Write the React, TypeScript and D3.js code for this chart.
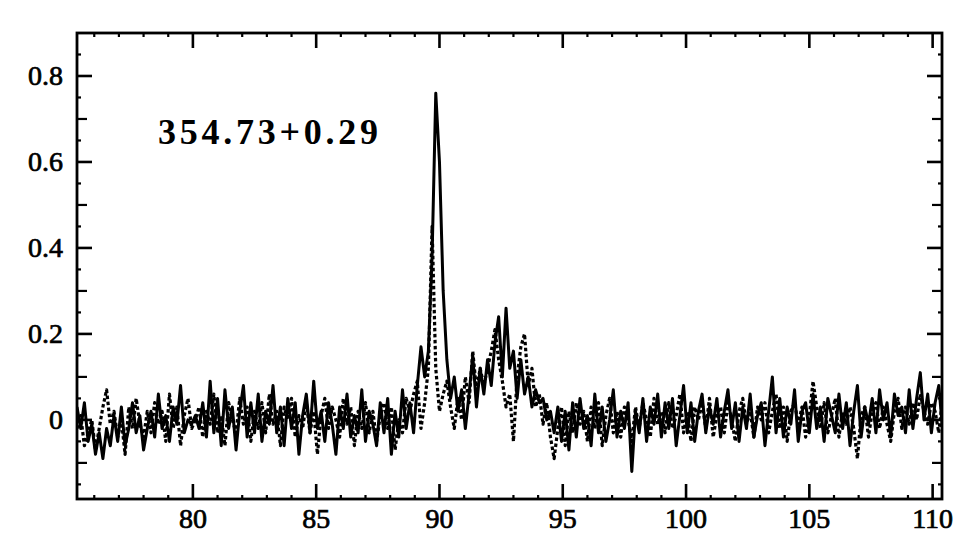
import React from "react";
import * as d3 from "d3";

// Velocity grid (km/s): channel centres, 0.15 km/s spacing
const velStart = 75.3;
const velStep = 0.15;

// Solid spectrum (line intensity)
const solidValues: number[] = [
  0.03, -0.02, 0.04, -0.05, -0.01, -0.08, -0.03, -0.09, -0.02, -0.06,
  0.01, -0.05, 0.03, -0.06, -0.02, 0.04, -0.03, 0.01, -0.07, -0.02,
  0.02, -0.04, 0.06, -0.02, 0.01, -0.05, 0.03, -0.01, 0.08, -0.03,
  0.0, -0.01, 0.01, -0.02, 0.04, -0.04, 0.09, -0.03, 0.05, -0.06,
  0.07, -0.02, 0.03, -0.07, 0.02, 0.08, -0.04, 0.04, -0.03, 0.06,
  -0.05, 0.02, -0.01, 0.08, -0.03, 0.03, -0.06, 0.05, -0.02, 0.04,
  -0.08, 0.01, 0.06, -0.03, 0.09, -0.02, 0.02, -0.05, 0.04, -0.01,
  -0.08, 0.03, -0.02, 0.06, -0.04, 0.01, -0.03, 0.07, -0.05, 0.02,
  -0.01, -0.06, 0.04, -0.03, 0.05, -0.08, 0.02, -0.04, 0.07, -0.02,
  0.04, -0.03, 0.08, 0.17, 0.1, 0.16, 0.38, 0.76, 0.6, 0.3,
  0.14, 0.05, 0.1, 0.02, 0.07, -0.02, 0.06, 0.15, 0.03, 0.12,
  0.06, 0.14, 0.08, 0.18, 0.24, 0.1, 0.26, 0.12, 0.16, 0.05,
  0.14, 0.06, 0.1, 0.03, 0.07, 0.04, 0.05, 0.0, 0.02, -0.03,
  0.03, -0.05, 0.02, -0.07, 0.04, -0.04, 0.05, -0.02, 0.01, -0.06,
  0.06, -0.03, 0.03, -0.05, 0.0, 0.07, -0.04, 0.02, -0.02, 0.04,
  -0.12, 0.02, -0.03, 0.05, -0.05, 0.03, -0.01, 0.06, -0.04, 0.04,
  -0.02, 0.05, -0.06, 0.01, 0.08, -0.03, 0.04, -0.05, 0.02, 0.06,
  -0.03, 0.03, -0.01, 0.05, -0.04, 0.02, 0.07, -0.02, 0.04, -0.05,
  0.03, -0.02, 0.06, -0.04, 0.01, 0.04, -0.06, 0.02, 0.1, -0.03,
  0.05, -0.04, 0.03, -0.01, 0.07, -0.05, 0.02, 0.04, -0.03, 0.06,
  -0.02, 0.03, -0.05, 0.05, 0.01, -0.03, 0.06, -0.02, 0.04, -0.06,
  0.02, 0.08, -0.04, 0.03, -0.01, 0.05, -0.03, 0.07, 0.0, 0.04,
  -0.04, 0.06, 0.01, 0.03, -0.03, 0.07, -0.02, 0.05, 0.11, 0.0,
  0.06, -0.03, 0.04, 0.08, -0.02,
];

// Dotted spectrum
const dottedValues: number[] = [
  -0.02, 0.01, -0.06, -0.03, 0.0, -0.07, -0.02, 0.03, 0.07, -0.01,
  0.02, -0.04, 0.0, -0.08, 0.03, -0.02, 0.05, -0.01, -0.04, 0.02,
  -0.03, 0.04, -0.01, 0.02, -0.05, 0.06, -0.02, 0.03, -0.06, 0.01,
  0.05, -0.02, 0.0, 0.03, -0.04, 0.02, -0.01, 0.06, -0.03, 0.01,
  -0.06, 0.04, 0.0, -0.03, 0.05, -0.01, 0.03, -0.05, 0.02, -0.02,
  0.04, -0.03, 0.06, -0.01, 0.02, -0.06, 0.03, 0.0, 0.05, -0.04,
  0.01, -0.02, 0.04, -0.03, 0.02, -0.08, 0.01, 0.05, -0.02, 0.03,
  0.0, -0.04, 0.05, -0.01, 0.03, -0.06, 0.02, -0.02, 0.04, -0.03,
  0.02, -0.05, 0.01, 0.04, -0.02, 0.03, -0.07, 0.0, -0.03, 0.05,
  0.02, 0.06, 0.09, -0.02, 0.04, 0.12, 0.45, 0.12, 0.02, 0.06,
  0.09, 0.03, -0.02, 0.05, 0.0, 0.1, 0.04, 0.16, 0.07, 0.12,
  0.08, 0.12, 0.16, 0.21, 0.14, 0.09, 0.03, 0.06, -0.05, 0.1,
  0.17, 0.2, 0.08, 0.12, 0.03, 0.06, -0.01, 0.04, -0.04, -0.09,
  -0.02, 0.03, -0.06, 0.02, -0.03, 0.04, -0.01, 0.02, -0.05, 0.03,
  -0.02, 0.04, -0.06, 0.01, 0.05, -0.03, 0.02, -0.04, 0.03, 0.0,
  -0.05, 0.03, -0.02, 0.04, 0.0, -0.04, 0.05, -0.01, 0.02, -0.03,
  0.04, -0.02, 0.01, 0.06, -0.03, 0.02, -0.05, 0.03, 0.0, 0.04,
  -0.02, 0.05, -0.04, 0.01, 0.03, -0.03, 0.04, 0.0, -0.05, 0.02,
  0.05, -0.01, 0.02, -0.04, 0.03, 0.0, 0.04, -0.03, 0.02, 0.06,
  -0.02, 0.03, -0.05, 0.02, 0.04, -0.01, 0.03, -0.04, 0.01, 0.09,
  0.03, -0.02, 0.04, -0.03, 0.01, 0.05, -0.04, 0.02, -0.01, 0.03,
  -0.02, -0.09, 0.01, 0.03, -0.04, 0.02, 0.04, -0.02, 0.03, -0.01,
  -0.05, 0.02, 0.05, -0.02, 0.03, -0.01, 0.04, 0.0, 0.06, 0.02,
  -0.01, 0.04, 0.02, -0.03, 0.05,
];

const xTickValues = [80, 85, 90, 95, 100, 105, 110];
const yTickValues = [0, 0.2, 0.4, 0.6, 0.8];
const yTickLabels = ["0", "0.2", "0.4", "0.6", "0.8"];
const annotation = "354.73+0.29";

const W = 964;
const H = 544;
const L = 77, R = 942, T = 33, B = 499;

export default function App() {
  const x = d3.scaleLinear().domain([75.3, 110.38]).range([L, R]);
  const y = d3.scaleLinear().domain([-0.184, 0.9]).range([B, T]);

  const toPts = (vals: number[]) =>
    vals.map((v, i) => [velStart + i * velStep, v] as [number, number]);
  const line = d3
    .line<[number, number]>()
    .x((d) => x(d[0]))
    .y((d) => y(d[1]));

  const xMinor = d3.range(76, 111, 1);
  const yFine = d3.range(-0.15, 0.9, 0.05).map((v) => Math.round(v * 100) / 100);

  const font = "'Liberation Serif', 'DejaVu Serif', serif";

  return (
    <svg
      width={W}
      height={H}
      style={{ position: "absolute", left: 0, top: 0, background: "#fff" }}
    >
      <defs>
        <clipPath id="plotclip">
          <rect x={L} y={T} width={R - L} height={B - T} />
        </clipPath>
      </defs>
      <rect x={0} y={0} width={W} height={H} fill="#fff" />

      {/* x ticks bottom & top */}
      {xMinor.map((v) => {
        const major = v % 5 === 0;
        const len = major ? 15 : 4;
        return (
          <g key={"xt" + v} stroke="#000" strokeWidth={major ? 2.6 : 2.2}>
            <line x1={x(v)} x2={x(v)} y1={B} y2={B - len} />
            <line x1={x(v)} x2={x(v)} y1={T} y2={T + len} />
          </g>
        );
      })}

      {/* y ticks left & right */}
      {yFine.map((v) => {
        const k = Math.round(v * 100);
        const major = k % 20 === 0;
        const mid = !major && k % 10 === 0;
        const len = major ? 15 : mid ? 10 : 4;
        return (
          <g key={"yt" + k} stroke="#000" strokeWidth={major ? 2.6 : 2.2}>
            <line x1={L} x2={L + len} y1={y(v)} y2={y(v)} />
            <line x1={R} x2={R - len} y1={y(v)} y2={y(v)} />
          </g>
        );
      })}

      {/* spectra */}
      <g clipPath="url(#plotclip)" fill="none" stroke="#000" strokeLinejoin="round">
        <path d={line(toPts(dottedValues)) || ""} strokeWidth={3.2} strokeDasharray="3.5,2.5" />
        <path d={line(toPts(solidValues)) || ""} strokeWidth={3} />
      </g>

      {/* frame */}
      <rect x={L} y={T} width={R - L} height={B - T} fill="none" stroke="#000" strokeWidth={2.8} />

      {/* tick labels */}
      {xTickValues.map((v) => (
        <text
          key={"xl" + v}
          x={x(v)}
          y={528}
          textAnchor="middle"
          fontFamily={font}
          fontSize={28}
          fill="#000"
          stroke="#000"
          strokeWidth={0.7}
        >
          {v}
        </text>
      ))}
      {yTickValues.map((v, i) => (
        <text
          key={"yl" + v}
          x={63}
          y={y(v) + 9}
          textAnchor="end"
          fontFamily={font}
          fontSize={28}
          fill="#000"
          stroke="#000"
          strokeWidth={0.7}
        >
          {yTickLabels[i]}
        </text>
      ))}

      <text
        x={158}
        y={144}
        fontFamily={font}
        fontWeight="bold"
        fontSize={36}
        textLength={220}
        lengthAdjust="spacing"
        fill="#000"
      >
        {annotation}
      </text>
    </svg>
  );
}
